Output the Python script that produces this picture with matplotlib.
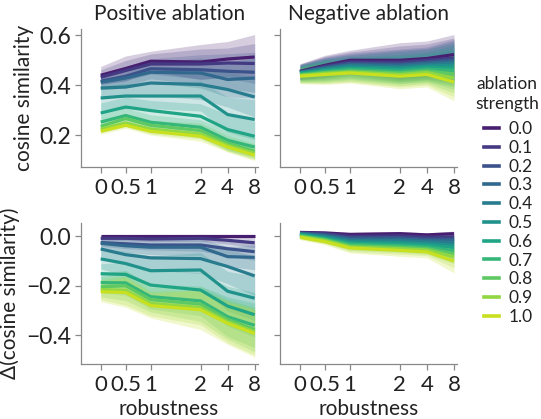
import numpy as np
import matplotlib
matplotlib.use("Agg")
import matplotlib.pyplot as plt
from matplotlib.lines import Line2D
from matplotlib.ticker import NullLocator, FixedLocator, FixedFormatter

plt.rcParams['font.family'] = ['Lato', 'DejaVu Sans']
plt.rcParams['text.color'] = '#222222'
plt.rcParams['axes.labelcolor'] = '#222222'
plt.rcParams['xtick.color'] = '#888888'
plt.rcParams['ytick.color'] = '#888888'
plt.rcParams['xtick.labelcolor'] = '#222222'
plt.rcParams['ytick.labelcolor'] = '#222222'

# ---------------- data ----------------
robustness = [0, 0.5, 1, 2, 4, 8]
robustness_labels = ["0", "0.5", "1", "2", "4", "8"]
strengths = [0.0, 0.1, 0.2, 0.3, 0.4, 0.5, 0.6, 0.7, 0.8, 0.9, 1.0]
strength_labels = ["0.0", "0.1", "0.2", "0.3", "0.4", "0.5", "0.6", "0.7", "0.8", "0.9", "1.0"]

# Positive ablation: cosine similarity (rows = strength, cols = robustness)
pos_cos = [
    [0.440, 0.467, 0.496, 0.493, 0.505, 0.513],
    [0.432, 0.459, 0.485, 0.485, 0.489, 0.487],
    [0.416, 0.436, 0.466, 0.462, 0.456, 0.452],
    [0.412, 0.429, 0.452, 0.449, 0.423, 0.429],
    [0.389, 0.393, 0.409, 0.403, 0.383, 0.353],
    [0.349, 0.357, 0.357, 0.357, 0.283, 0.263],
    [0.289, 0.313, 0.299, 0.276, 0.223, 0.196],
    [0.253, 0.279, 0.252, 0.232, 0.180, 0.153],
    [0.236, 0.267, 0.240, 0.219, 0.169, 0.136],
    [0.225, 0.249, 0.225, 0.205, 0.160, 0.128],
    [0.216, 0.240, 0.216, 0.196, 0.153, 0.120],
]
pos_cos_err = [
    [0.035, 0.050, 0.040, 0.070, 0.070, 0.090],
    [0.030, 0.040, 0.040, 0.060, 0.060, 0.080],
    [0.030, 0.040, 0.040, 0.060, 0.070, 0.080],
    [0.030, 0.040, 0.040, 0.060, 0.070, 0.080],
    [0.040, 0.040, 0.050, 0.060, 0.070, 0.080],
    [0.050, 0.050, 0.050, 0.060, 0.070, 0.080],
    [0.040, 0.040, 0.040, 0.050, 0.060, 0.060],
    [0.030, 0.030, 0.030, 0.030, 0.040, 0.040],
    [0.020, 0.020, 0.020, 0.030, 0.030, 0.030],
    [0.015, 0.015, 0.020, 0.020, 0.025, 0.025],
    [0.012, 0.012, 0.015, 0.020, 0.020, 0.022],
]

# Negative ablation: cosine similarity
neg_cos = [
    [0.456, 0.480, 0.500, 0.500, 0.507, 0.523],
    [0.455, 0.476, 0.493, 0.492, 0.500, 0.509],
    [0.453, 0.472, 0.488, 0.485, 0.493, 0.503],
    [0.452, 0.469, 0.483, 0.480, 0.488, 0.496],
    [0.451, 0.467, 0.479, 0.475, 0.483, 0.489],
    [0.449, 0.463, 0.473, 0.469, 0.477, 0.480],
    [0.447, 0.459, 0.468, 0.463, 0.471, 0.469],
    [0.444, 0.455, 0.463, 0.456, 0.464, 0.459],
    [0.441, 0.451, 0.457, 0.449, 0.457, 0.445],
    [0.439, 0.447, 0.453, 0.443, 0.451, 0.429],
    [0.436, 0.443, 0.449, 0.436, 0.443, 0.413],
]
neg_cos_err = [
    [0.030, 0.040, 0.040, 0.070, 0.070, 0.080],
    [0.030, 0.040, 0.040, 0.065, 0.065, 0.080],
    [0.030, 0.040, 0.040, 0.060, 0.060, 0.080],
    [0.030, 0.040, 0.040, 0.060, 0.060, 0.080],
    [0.030, 0.040, 0.040, 0.060, 0.060, 0.080],
    [0.030, 0.040, 0.040, 0.055, 0.055, 0.080],
    [0.030, 0.040, 0.040, 0.055, 0.055, 0.075],
    [0.030, 0.040, 0.040, 0.050, 0.050, 0.075],
    [0.030, 0.040, 0.040, 0.050, 0.050, 0.075],
    [0.030, 0.040, 0.040, 0.050, 0.050, 0.075],
    [0.030, 0.040, 0.040, 0.050, 0.050, 0.075],
]

# Positive ablation: delta cosine similarity
pos_delta = [
    [0.000, 0.000, 0.000, 0.000, 0.000, 0.000],
    [-0.008, -0.008, -0.011, -0.008, -0.016, -0.026],
    [-0.025, -0.030, -0.035, -0.035, -0.050, -0.062],
    [-0.028, -0.038, -0.044, -0.044, -0.082, -0.085],
    [-0.051, -0.074, -0.087, -0.090, -0.122, -0.160],
    [-0.091, -0.110, -0.139, -0.136, -0.222, -0.250],
    [-0.151, -0.154, -0.197, -0.217, -0.282, -0.317],
    [-0.187, -0.188, -0.244, -0.261, -0.325, -0.360],
    [-0.204, -0.200, -0.256, -0.274, -0.336, -0.377],
    [-0.215, -0.218, -0.271, -0.288, -0.345, -0.385],
    [-0.224, -0.227, -0.280, -0.297, -0.352, -0.393],
]
pos_delta_err = [
    [0.005, 0.005, 0.005, 0.008, 0.005, 0.005],
    [0.008, 0.010, 0.010, 0.012, 0.015, 0.020],
    [0.015, 0.020, 0.020, 0.025, 0.030, 0.035],
    [0.020, 0.025, 0.030, 0.035, 0.040, 0.050],
    [0.030, 0.040, 0.050, 0.060, 0.070, 0.080],
    [0.040, 0.050, 0.060, 0.070, 0.080, 0.090],
    [0.040, 0.050, 0.060, 0.070, 0.080, 0.090],
    [0.040, 0.050, 0.050, 0.060, 0.080, 0.090],
    [0.040, 0.060, 0.050, 0.070, 0.080, 0.090],
    [0.040, 0.060, 0.050, 0.070, 0.085, 0.095],
    [0.040, 0.060, 0.050, 0.080, 0.085, 0.095],
]

# Negative ablation: delta cosine similarity
neg_delta = [
    [0.016, 0.014, 0.008, 0.011, 0.006, 0.011],
    [0.015, 0.011, 0.000, 0.002, -0.003, -0.002],
    [0.013, 0.007, -0.006, -0.005, -0.011, -0.010],
    [0.012, 0.003, -0.011, -0.011, -0.016, -0.017],
    [0.011, 0.000, -0.016, -0.017, -0.022, -0.025],
    [0.009, -0.004, -0.022, -0.024, -0.029, -0.036],
    [0.007, -0.008, -0.027, -0.031, -0.036, -0.045],
    [0.004, -0.011, -0.032, -0.038, -0.043, -0.058],
    [0.001, -0.014, -0.038, -0.044, -0.050, -0.070],
    [-0.001, -0.017, -0.043, -0.050, -0.055, -0.083],
    [-0.004, -0.022, -0.047, -0.057, -0.063, -0.100],
]
neg_delta_err = [
    [0.005, 0.006, 0.008, 0.008, 0.008, 0.010],
    [0.006, 0.008, 0.010, 0.010, 0.010, 0.014],
    [0.006, 0.008, 0.010, 0.012, 0.012, 0.016],
    [0.007, 0.009, 0.012, 0.013, 0.014, 0.020],
    [0.007, 0.010, 0.013, 0.015, 0.016, 0.024],
    [0.008, 0.010, 0.014, 0.016, 0.018, 0.028],
    [0.008, 0.011, 0.015, 0.018, 0.019, 0.032],
    [0.009, 0.011, 0.016, 0.020, 0.020, 0.036],
    [0.009, 0.012, 0.018, 0.021, 0.022, 0.040],
    [0.010, 0.012, 0.019, 0.023, 0.023, 0.044],
    [0.010, 0.012, 0.020, 0.024, 0.024, 0.048],
]

# ---------------- figure ----------------
W, H = 541, 419
DPI = 100
fig = plt.figure(figsize=(W / DPI, H / DPI), dpi=DPI)

def frac(l, r, t, b):
    return [l / W, 1 - b / H, (r - l) / W, (b - t) / H]

ax_tl = fig.add_axes(frac(80.7, 257.5, 29, 167.3))
ax_tr = fig.add_axes(frac(280, 456.8, 29, 167.3))
ax_bl = fig.add_axes(frac(80.7, 257.5, 223, 363.7))
ax_br = fig.add_axes(frac(280, 456.8, 223, 363.7))

cmap = plt.get_cmap('viridis')
colors = [cmap(v) for v in np.linspace(0, 1, len(strengths) + 2)[1:-1]]

FS_YTICK = 16.5
FS_XTICK = 16
FS_LAB = 15
x = np.array(robustness, dtype=float)

def draw(ax, vals, errs):
    vals = np.array(vals)
    errs = np.array(errs)
    for i, c in enumerate(colors):
        ax.fill_between(x, vals[i] - errs[i], vals[i] + errs[i], color=c,
                        alpha=0.22, linewidth=0, zorder=1)
    for i, c in enumerate(colors):
        ax.plot(x, vals[i], color=c, linewidth=2.3, zorder=2,
                solid_capstyle='butt')
    ax.set_xscale('symlog', linthresh=2)
    ax.set_xlim(-0.4, 8.6)
    ax.xaxis.set_major_locator(FixedLocator(robustness))
    ax.xaxis.set_major_formatter(FixedFormatter(robustness_labels))
    ax.xaxis.set_minor_locator(NullLocator())
    for s in ['top', 'right']:
        ax.spines[s].set_visible(False)
    for s in ['left', 'bottom']:
        ax.spines[s].set_color('#888888')
        ax.spines[s].set_linewidth(0.9)
    ax.tick_params(axis='y', labelsize=FS_YTICK, length=4, width=0.9, pad=3)
    ax.tick_params(axis='x', labelsize=FS_XTICK, length=4, width=0.9, pad=4)

draw(ax_tl, pos_cos, pos_cos_err)
draw(ax_tr, neg_cos, neg_cos_err)
draw(ax_bl, pos_delta, pos_delta_err)
draw(ax_br, neg_delta, neg_delta_err)

for ax in (ax_tl, ax_tr):
    ax.set_ylim(0.072, 0.625)
    ax.set_yticks([0.2, 0.4, 0.6])
for ax in (ax_bl, ax_br):
    ax.set_ylim(-0.515, 0.054)
    ax.set_yticks([-0.4, -0.2, 0.0])
ax_tl.set_yticklabels(["0.2", "0.4", "0.6"])
ax_bl.set_yticklabels(["\u22120.4", "\u22120.2", "0.0"])
ax_tr.tick_params(axis='y', labelleft=False)
ax_br.tick_params(axis='y', labelleft=False)

ax_tl.set_title("Positive ablation", fontsize=FS_LAB, pad=6.5)
ax_tr.set_title("Negative ablation", fontsize=FS_LAB, pad=6.5)
ax_tl.set_ylabel("cosine similarity", fontsize=FS_LAB)
ax_bl.set_ylabel("\u0394(cosine similarity)", fontsize=FS_LAB)
ax_bl.set_xlabel("robustness", fontsize=FS_LAB, labelpad=3)
ax_br.set_xlabel("robustness", fontsize=FS_LAB, labelpad=3)
fig.align_ylabels([ax_tl, ax_bl])

fig.text(507 / W, 1 - 84 / H, "ablation", fontsize=12.5, ha='center', va='center')
fig.text(507 / W, 1 - 104 / H, "strength", fontsize=12.5, ha='center', va='center')

handles = [Line2D([0], [0], color=c, linewidth=2.6) for c in colors]
leg = fig.legend(handles, strength_labels,
                 loc='center left', bbox_to_anchor=(0.894, 1 - 223 / H),
                 frameon=False, fontsize=12.5,
                 handlelength=0.9, handletextpad=0.55, labelspacing=0.16,
                 borderaxespad=0.0, borderpad=0.0)

fig.savefig("out.png", dpi=DPI)
